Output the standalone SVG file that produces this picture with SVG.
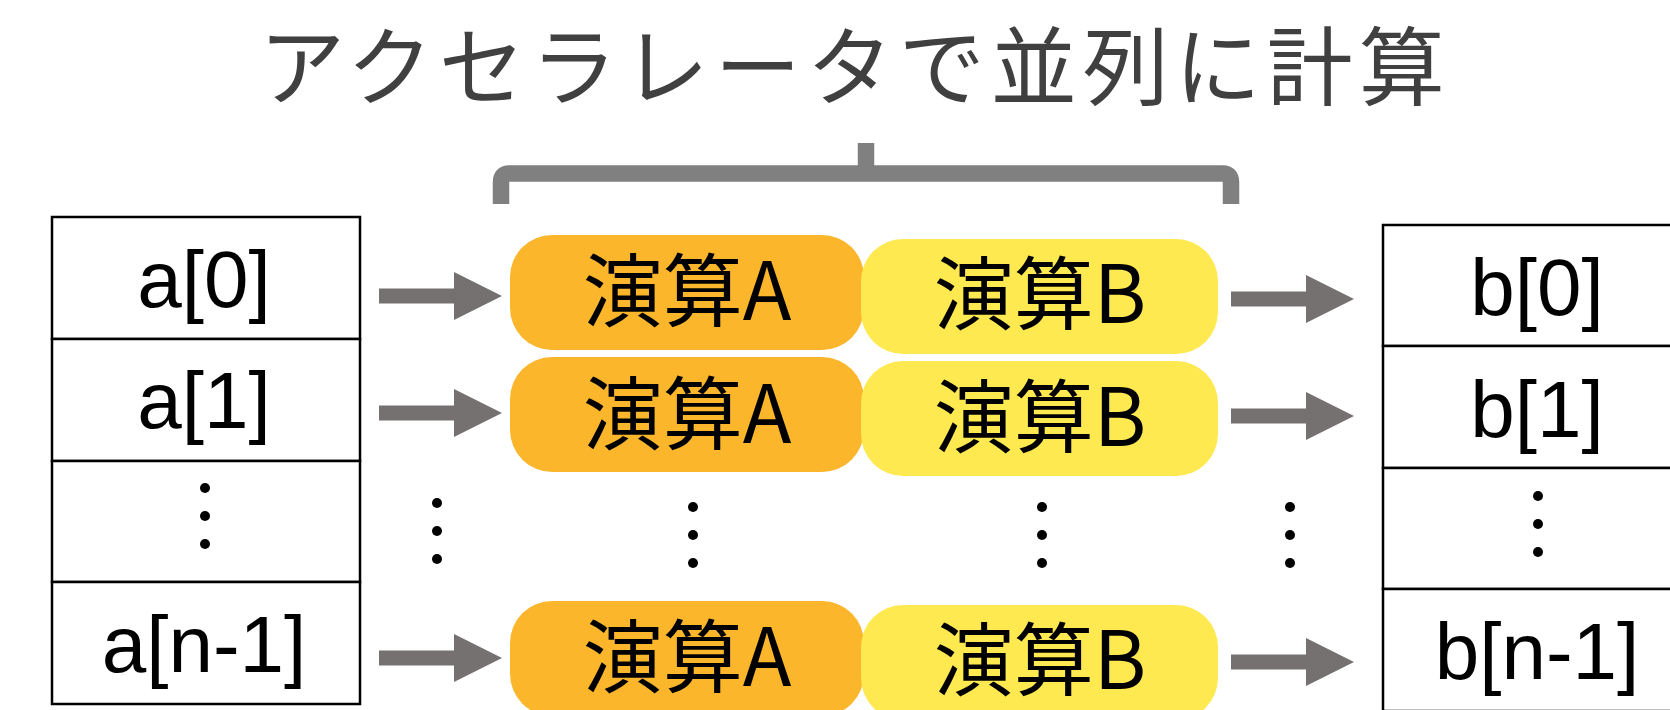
<svg xmlns="http://www.w3.org/2000/svg" width="1670" height="710" viewBox="0 0 1670 710">
  <style>
    .cell { fill: #ffffff; stroke: #000000; stroke-width: 2.5; }
    .lbl { font-family: "Liberation Sans", Arial, sans-serif; font-size: 80px; fill: #000000; text-anchor: middle; }
    .op { font-family: "Noto Sans CJK JP", "Noto Sans", sans-serif; font-size: 80px; fill: #000000; text-anchor: middle; }
    .opA { fill: #FBB62C; }
    .opB { fill: #FFE950; }
    .arrow { fill: #767171; }
    .dot { fill: #000000; }
    .title { font-family: "Noto Sans CJK JP", "Noto Sans", sans-serif; font-size: 86px; letter-spacing: 6px; fill: #404040; }
    .brace { fill: none; stroke: #808080; stroke-width: 16.5; stroke-linejoin: round; }
  </style>
  <defs>
    <polygon id="arr" points="0,-7.5 75,-7.5 75,-24 123,0 75,24 75,7.5 0,7.5"/>
    <g id="vdots">
      <circle cx="0" cy="0" r="5"/>
      <circle cx="0" cy="28" r="5"/>
      <circle cx="0" cy="56" r="5"/>
    </g>
  </defs>
  <rect width="1670" height="710" fill="#ffffff"/>

  <g id="title">
    <text class="title" x="259" y="99">アクセラレータで並列に計算</text>
  </g>

  <g id="brace">
    <path class="brace" d="M501,204 V182 Q501,173.5 509,173.5 H1223 Q1231,173.5 1231,182 V204"/>
    <path class="brace" d="M866,143 V173.5"/>
  </g>

  <g id="array-a">
    <rect class="cell" x="52" y="217" width="308" height="122"/>
    <rect class="cell" x="52" y="339" width="308" height="122"/>
    <rect class="cell" x="52" y="461" width="308" height="121"/>
    <rect class="cell" x="52" y="582" width="308" height="122"/>
    <text class="lbl" x="204" y="307">a[0]</text>
    <text class="lbl" x="204" y="428">a[1]</text>
    <use href="#vdots" class="dot" x="205" y="488"/>
    <text class="lbl" x="204" y="672">a[n-1]</text>
  </g>

  <g id="array-b">
    <rect class="cell" x="1383" y="225" width="308" height="121"/>
    <rect class="cell" x="1383" y="346" width="308" height="122"/>
    <rect class="cell" x="1383" y="468" width="308" height="121"/>
    <rect class="cell" x="1383" y="589" width="308" height="122"/>
    <text class="lbl" x="1537" y="315">b[0]</text>
    <text class="lbl" x="1537" y="437">b[1]</text>
    <use href="#vdots" class="dot" x="1538" y="496"/>
    <text class="lbl" x="1537" y="679">b[n-1]</text>
  </g>

  <g id="opA-0">
    <rect class="opA" x="510" y="235" width="354" height="115" rx="42" ry="42"/>
    <text class="op" x="687" y="320">演算A</text>
  </g>
  <g id="opA-1">
    <rect class="opA" x="510" y="357" width="354" height="115" rx="42" ry="42"/>
    <text class="op" x="687" y="443">演算A</text>
  </g>
  <g id="opA-n">
    <rect class="opA" x="510" y="601" width="354" height="115" rx="42" ry="42"/>
    <text class="op" x="687" y="686">演算A</text>
  </g>
  <g id="opB-0">
    <rect class="opB" x="861" y="239" width="357" height="115" rx="42" ry="42"/>
    <text class="op" x="1040" y="323">演算B</text>
  </g>
  <g id="opB-1">
    <rect class="opB" x="861" y="361" width="357" height="115" rx="42" ry="42"/>
    <text class="op" x="1040" y="446">演算B</text>
  </g>
  <g id="opB-n">
    <rect class="opB" x="861" y="605" width="357" height="115" rx="42" ry="42"/>
    <text class="op" x="1040" y="689">演算B</text>
  </g>

  <g id="ellipses">
    <use href="#vdots" class="dot" x="437" y="503"/>
    <use href="#vdots" class="dot" x="693" y="507"/>
    <use href="#vdots" class="dot" x="1042" y="507"/>
    <use href="#vdots" class="dot" x="1290" y="507"/>
  </g>

  <g id="connectors">
    <use href="#arr" class="arrow" x="379" y="296"/>
    <use href="#arr" class="arrow" x="379" y="413"/>
    <use href="#arr" class="arrow" x="379" y="658"/>
    <use href="#arr" class="arrow" x="1231" y="299"/>
    <use href="#arr" class="arrow" x="1231" y="416"/>
    <use href="#arr" class="arrow" x="1231" y="662"/>
  </g>
</svg>
